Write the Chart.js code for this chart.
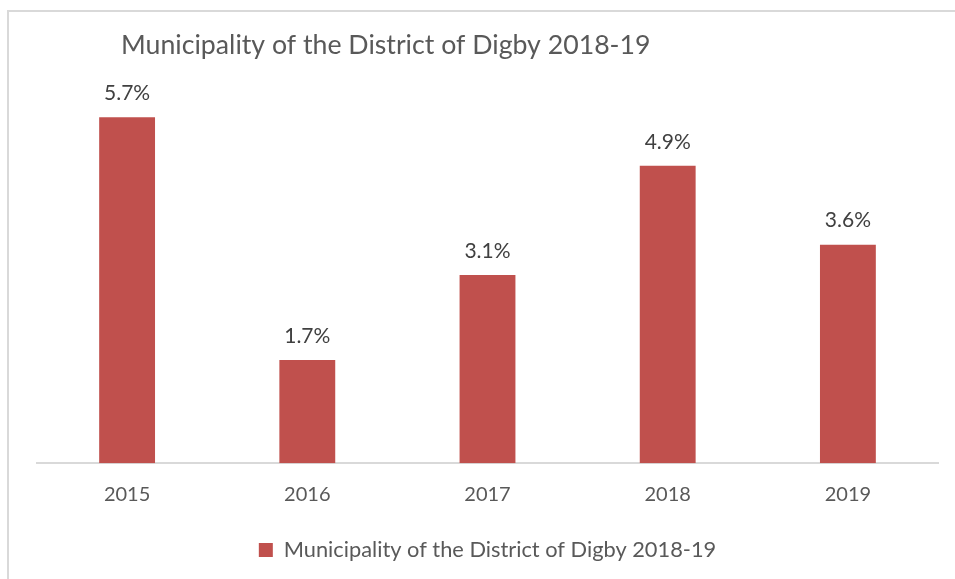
<!DOCTYPE html>
<html>
<head>
<meta charset="utf-8">
<script src="https://cdn.jsdelivr.net/npm/chart.js@4"></script>
<style>
  html, body { margin: 0; padding: 0; background: #fff; }
  #wrap { position: relative; width: 955px; height: 579px; }
  #frame { position: absolute; left: 7px; top: 10px; right: -5px; bottom: -5px;
           border-top: 2px solid #d9d9d9; border-left: 2px solid #d9d9d9; }
  canvas { position: absolute; left: 0; top: 0; }
</style>
</head>
<body>
<div id="wrap">
  <div id="frame"></div>
  <canvas id="chart" width="955" height="579"></canvas>
</div>
<script>
const chartTitle = 'Municipality of the District of Digby 2018-19';
const years = ['2015', '2016', '2017', '2018', '2019'];
const rates = [5.7, 1.7, 3.1, 4.9, 3.6];
const fontFamily = 'Lato, "Open Sans", sans-serif';

// value labels above each bar
const barLabels = {
    id: 'barLabels',
    afterDatasetsDraw(chart) {
        const ctx = chart.ctx;
        const meta = chart.getDatasetMeta(0);
        ctx.save();
        ctx.fillStyle = '#404040';
        ctx.font = '21px ' + fontFamily;
        ctx.textAlign = 'center';
        ctx.textBaseline = 'middle';
        meta.data.forEach((bar, i) => {
            ctx.fillText(rates[i].toFixed(1) + '%', bar.x, bar.y - 24);
        });
        ctx.restore();
    }
};

// title sits left of centre in the original
const leftTitle = {
    id: 'leftTitle',
    afterDraw(chart) {
        const ctx = chart.ctx;
        ctx.save();
        ctx.fillStyle = '#595959';
        ctx.font = '26.7px ' + fontFamily;
        ctx.textAlign = 'left';
        ctx.textBaseline = 'middle';
        ctx.fillText(chartTitle, 121, 45);
        ctx.restore();
    }
};

const ctx = document.getElementById('chart').getContext('2d');
new Chart(ctx, {
    type: 'bar',
    data: {
        labels: years,
        datasets: [{
            label: chartTitle,
            data: rates,
            backgroundColor: '#C0504D',
            borderWidth: 0,
            categoryPercentage: 1,
            barPercentage: 0.31
        }]
    },
    options: {
        responsive: false,
        animation: false,
        layout: { padding: { left: 37, right: 17, top: 99, bottom: 8 } },
        scales: {
            x: {
                grid: { display: false, drawTicks: false },
                border: { color: '#d9d9d9', width: 2 },
                ticks: { color: '#595959', padding: 19, font: { family: fontFamily, size: 20 } }
            },
            y: {
                display: false,
                min: 0,
                max: 6
            }
        },
        plugins: {
            legend: {
                position: 'bottom',
                labels: {
                    color: '#595959',
                    boxWidth: 14,
                    boxHeight: 14,
                    padding: 14,
                    font: { family: fontFamily, size: 21.8 }
                }
            },
            tooltip: { enabled: false }
        }
    },
    plugins: [barLabels, leftTitle]
});
</script>
</body>
</html>
